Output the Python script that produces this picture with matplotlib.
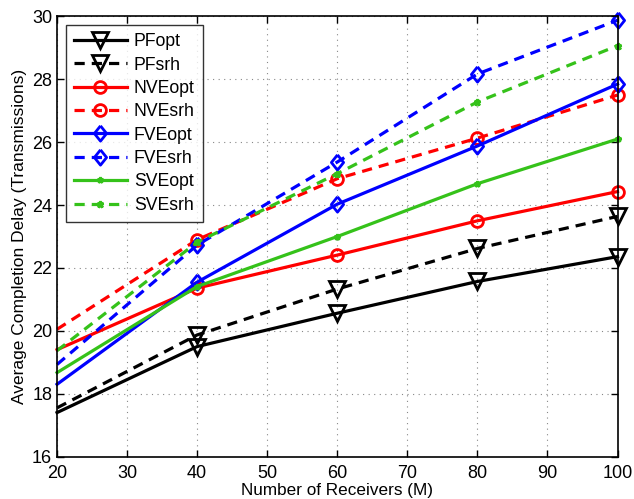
import matplotlib
matplotlib.use("Agg")
import matplotlib.pyplot as plt

plt.rcParams['font.family'] = ['Liberation Sans', 'DejaVu Sans']

receivers = [20, 40, 60, 80, 100]

pf_opt = [17.4, 19.5, 20.56, 21.57, 22.36]
pf_srh = [17.55, 19.87, 21.33, 22.62, 23.64]
nve_opt = [19.4, 21.36, 22.41, 23.5, 24.43]
nve_srh = [20.05, 22.9, 24.84, 26.13, 27.5]
fve_opt = [18.3, 21.55, 24.03, 25.88, 27.85]
fve_srh = [18.93, 22.73, 25.37, 28.17, 29.88]
sve_opt = [18.67, 21.41, 23.0, 24.68, 26.1]
sve_srh = [19.37, 22.82, 25.0, 27.28, 29.07]

green = '#35c21a'
diamond = [(0, 1), (0.8, 0), (0, -1), (-0.8, 0), (0, 1)]

series = [
    ("PFopt", pf_opt, 'k', '-', 'v', 11),
    ("PFsrh", pf_srh, 'k', '--', 'v', 11),
    ("NVEopt", nve_opt, 'r', '-', 'o', 8.5),
    ("NVEsrh", nve_srh, 'r', '--', 'o', 8.5),
    ("FVEopt", fve_opt, 'b', '-', diamond, 11),
    ("FVEsrh", fve_srh, 'b', '--', diamond, 11),
    ("SVEopt", sve_opt, green, '-', '*', 4),
    ("SVEsrh", sve_srh, green, '--', '*', 5),
]

fig = plt.figure(figsize=(6.34, 4.99), dpi=100)
ax = fig.add_axes([0.09, 0.085, 0.884, 0.882])

for name, vals, col, ls, mk, ms in series:
    line, = ax.plot(receivers, vals, color=col, linestyle=ls, linewidth=2.3,
                    marker=mk, markersize=ms, markerfacecolor='none',
                    markeredgecolor=col, markeredgewidth=2, label=name,
                    markevery=[1, 2, 3, 4], clip_on=False)
    if ls == '--':
        line.set_dashes((3.2, 2.2))

ax.set_xlim(20, 100)
ax.set_ylim(16, 30)
ax.set_xticks(range(20, 101, 10))
ax.set_yticks(range(16, 31, 2))
ax.tick_params(direction='in', top=True, right=True, labelsize=13, length=5, width=1)
ax.tick_params(axis='x', pad=6)
ax.grid(True, linestyle=(0, (1, 4)), color='#888888', linewidth=0.8)
for sp in ax.spines.values():
    sp.set_linewidth(1.2)

ax.set_xlabel("Number of Receivers (M)", fontsize=12.3, labelpad=1)
ax.set_ylabel("Average Completion Delay (Transmissions)", fontsize=12.5, labelpad=4)

leg = ax.legend(loc='upper left', fontsize=12.7, frameon=True, fancybox=False,
                edgecolor='k', handlelength=3.0, borderaxespad=0.5,
                labelspacing=0.36, handletextpad=0.4, borderpad=0.45)
leg.get_frame().set_linewidth(1.0)

fig.savefig("out.png", dpi=100)
